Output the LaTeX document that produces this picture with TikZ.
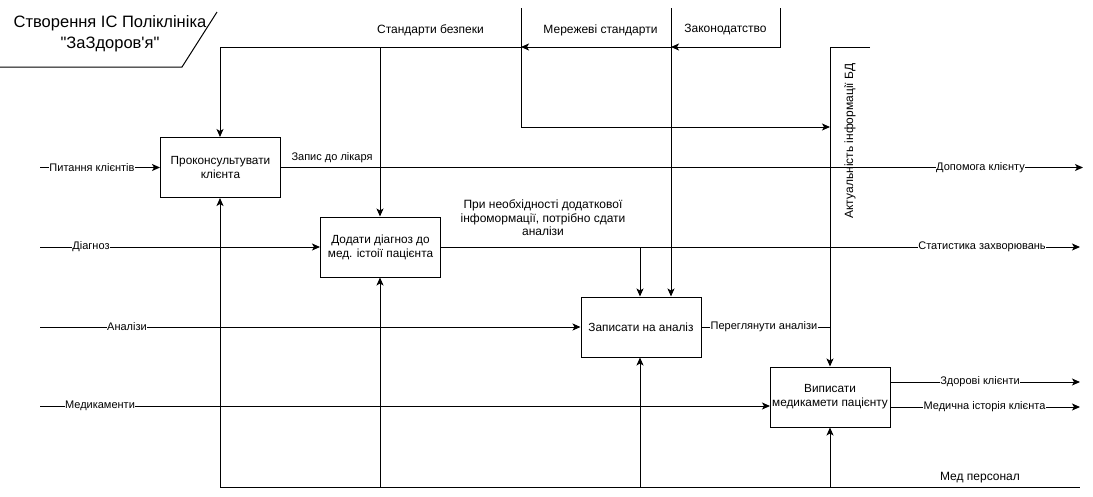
\documentclass[tikz,border=0pt]{standalone}
\usepackage{fontspec}
\setmainfont{Liberation Sans}
% a family without TeX ligatures, so that " and ' stay straight
\newfontfamily\plainsans{Liberation Sans}
\usetikzlibrary{arrows.meta}
\begin{document}
\begin{tikzpicture}[x=1pt,y=-1pt,
  func/.style={draw, line width=1pt, minimum width=120pt, minimum height=60pt,
    align=center, font=\fontsize{11.8}{14}\selectfont, inner sep=1pt},
  flow/.style={line width=1pt},
  arr/.style={flow, -{Stealth[length=8pt,width=7pt,inset=2pt]}},
  lbl/.style={font=\fontsize{11}{13}\selectfont, inner sep=1pt},
  biglbl/.style={font=\fontsize{12}{13.5}\selectfont, inner sep=1pt},
  onl/.style={lbl, fill=white, inner sep=0.5pt},
]
\useasboundingbox (0,0) rectangle (1093,496);

% title block
\coordinate (tl) at (0,67);
\coordinate (tm) at (182,67);
\coordinate (tr) at (217,12);
\draw[flow] (tl) -- (tm) -- (tr);
\node[font=\plainsans\fontsize{16.5}{21}\selectfont, align=center] (title) at (110,34)
  {Створення ІС Поліклініка\\"ЗаЗдоров'я"};

% activities
\node[func] (b1) at (220.5,167.5) {Проконсультувати\\клієнта};
\node[func] (b2) at (380.5,247) {Додати діагноз до\\мед. істоії пацієнта};
\node[func] (b3) at (641,327) {Записати на аналіз};
\node[func] (b4) at (830,397) {Виписати\\медикамети пацієнту};

% controls from the top
\coordinate (lawTopR) at (780,8);
\coordinate (lawR) at (780,47);
\coordinate (lawTop) at (671,8);
\coordinate (lawJ) at (671,47);
\coordinate (netTop) at (521,8);
\coordinate (netJ) at (521,47);
\coordinate (netB) at (521,127);
\coordinate (secM) at (380,47);
\coordinate (secL) at (220,47);
\coordinate (dbR) at (870,47);
\coordinate (dbTop) at (830,47);
\coordinate (dbJ) at (830,127);

\draw[arr] (lawTopR) -- (lawR) -- (lawJ);
\draw[arr] (lawJ) -- (netJ);
\draw[arr] (netJ) -- (secL) -- (secL |- b1.north);
\draw[arr] (secM) -- (secM |- b2.north);
\draw[arr] (lawTop) -- (lawTop |- b3.north);
\draw[arr] (netTop) -- (netB) -- (dbJ);
\draw[flow] (dbR) -- (dbTop) -- (dbJ);
\draw[arr] (dbJ) -- (b4.north);

\node[biglbl] (secL1) at (430.5,30) {Стандарти безпеки};
\node[biglbl] (netL) at (600.5,30) {Мережеві стандарти};
\node[biglbl] (lawL) at (725.5,30) {Законодатство};
\node[biglbl, rotate=90] (dbL) at (850,141) {Актуальність інформації БД};

% inputs
\coordinate (in1) at (40,167.5);
\coordinate (in2) at (40,247);
\coordinate (in3) at (40,327);
\coordinate (in4) at (40,406);
\coordinate (b4in) at (770,406);
\draw[arr] (in1) -- (b1.west);
\draw[arr] (in2) -- (b2.west);
\draw[arr] (in3) -- (b3.west);
\draw[arr] (in4) -- (b4in);
\node[onl] (inL1) at (92,167.5) {Питання клієнтів};
\node[onl] (inL2) at (91,247) {Діагноз};
\node[onl] (inL3) at (127,327) {Аналізи};
\node[onl] (inL4) at (100,406) {Медикаменти};

% outputs
\coordinate (out1) at (1083,167.5);
\coordinate (out2) at (1080,247);
\coordinate (anJ) at (640,247);
\coordinate (revJ) at (830,327);
\coordinate (b4o1) at (890,382);
\coordinate (out41) at (1080,382);
\coordinate (b4o2) at (890,407);
\coordinate (out42) at (1080,407);
\draw[arr] (b1.east) -- (out1);
\draw[arr] (b2.east) -- (out2);
\draw[arr] (anJ) -- (anJ |- b3.north);
\draw[flow] (b3.east) -- (revJ);
\draw[arr] (b4o1) -- (out41);
\draw[arr] (b4o2) -- (out42);

\node[lbl] (outL1a) at (332,158) {Запис до лікаря};
\node[onl] (outL1) at (980.5,167.5) {Допомога клієнту};
\node[biglbl, align=center] (outL2a) at (543,218)
  {При необхідності додаткової\\інфомормації, потрібно сдати\\аналізи};
\node[onl] (outL2) at (982,247) {Статистика захворювань};
\node[onl] (outL3) at (764,327) {Переглянути аналізи};
\node[onl] (outL41) at (980,382) {Здорові клієнти};
\node[onl] (outL42) at (984.5,407) {Медична історія клієнта};

% mechanisms from the bottom
\coordinate (mL) at (220,487);
\coordinate (mR) at (1080,487);
\coordinate (m2) at (380,487);
\coordinate (m3) at (640,487);
\coordinate (m4) at (830,487);
\draw[flow] (mL) -- (mR);
\draw[arr] (mL) -- (mL |- b1.south);
\draw[arr] (m2) -- (m2 |- b2.south);
\draw[arr] (m3) -- (m3 |- b3.south);
\draw[arr] (m4) -- (b4.south);
\node[biglbl] (mechL) at (980,478) {Мед персонал};
\end{tikzpicture}
\end{document}
